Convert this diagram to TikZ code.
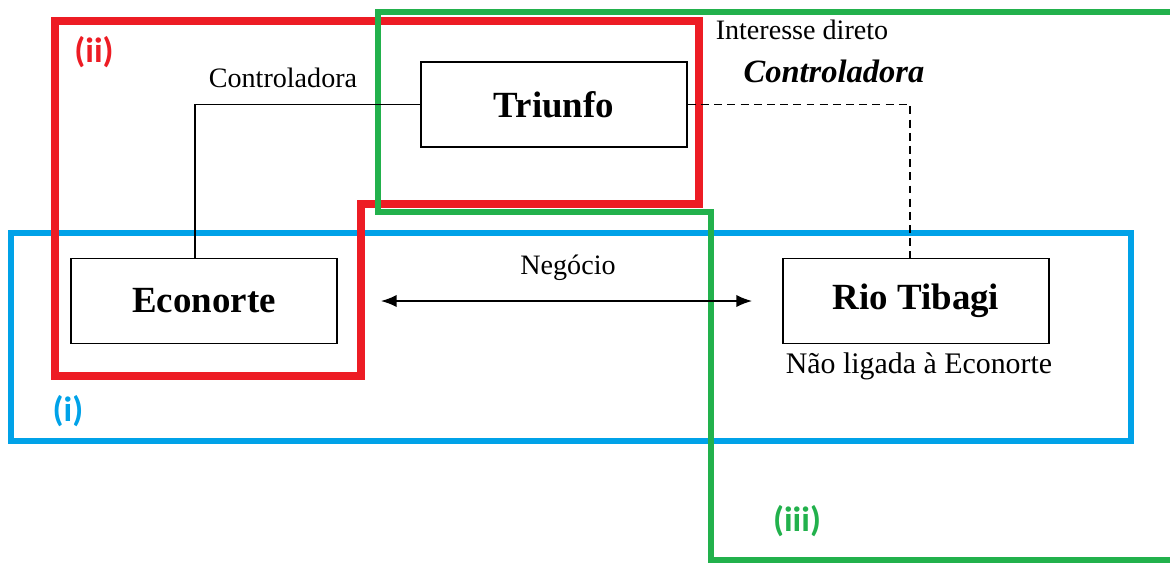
\documentclass[tikz,border=0pt]{standalone}
\usepackage{fontspec}
\setmainfont{Liberation Serif}
\newfontfamily\tagfont{Carlito}
\usetikzlibrary{arrows.meta,positioning}
\definecolor{regred}{HTML}{ED1C24}
\definecolor{reggreen}{HTML}{22B14C}
\definecolor{regblue}{HTML}{00A2E8}
\tikzset{entity/.style={draw, line width=1.1pt, minimum width=5.32cm, minimum height=1.7cm, font=\fontsize{21}{24}\selectfont\bfseries},
  link/.style={line width=0.9pt},
  note/.style={inner sep=0pt, font=\fontsize{16}{18}\selectfont},
  tag/.style={inner sep=0pt, font=\tagfont\fontsize{20}{22}\selectfont\bfseries}}

\begin{document}
\begin{tikzpicture}[x=0.02cm,y=-0.02cm]
  \useasboundingbox (0,0) rectangle (1170,562);
  % regions
  \draw[regblue,line width=3.4pt] (11,233) rectangle (1131,441);
  \draw[regred,line width=4pt] (55,21) -- (699,21) -- (699,204) -- (361,204) -- (361,376) -- (55,376) -- cycle;
  \draw[reggreen,line width=3.6pt] (1180,12) -- (378,12) -- (378,212) -- (711,212) -- (711,560) -- (1180,560);

  % companies
  \node[entity] (triunfo)  at (554,104.5) {Triunfo};
  \node[entity] (econorte) at (204,301)   {Econorte};
  \node[entity] (tibagi)   at (916,301)   {Rio Tibagi};

  \draw[link] (triunfo.west) -| ([xshift=-0.18cm]econorte.north);
  \draw[link,dash pattern=on 4.5pt off 3pt] (triunfo.east) -| ([xshift=-0.12cm]tibagi.north);
  \draw[link,{Latex[length=9pt,width=7pt]}-{Latex[length=9pt,width=7pt]},shorten <=0.86cm,shorten >=0.6cm] (econorte) -- (tibagi);

  % texts
  \node[note] (ctrl)  at (283,78)  {Controladora};
  \node[note] (inter) at (802,30)  {Interesse direto};
  \node[note,font=\fontsize{18.5}{20}\selectfont\bfseries\itshape] (ctrlb) at (834,71) {Controladora};
  \node[note] (neg)   at (568,268) {Negócio};
  \node[note,font=\fontsize{17}{19}\selectfont] (naolig) at (919,366) {Não ligada à Econorte};

  \node[tag,regred]   (tii)  at (94,52)   {(ii)};
  \node[tag,regblue]  (ti)   at (68,411)  {(i)};
  \node[tag,reggreen] (tiii) at (797,521) {(iii)};
\end{tikzpicture}
\end{document}
